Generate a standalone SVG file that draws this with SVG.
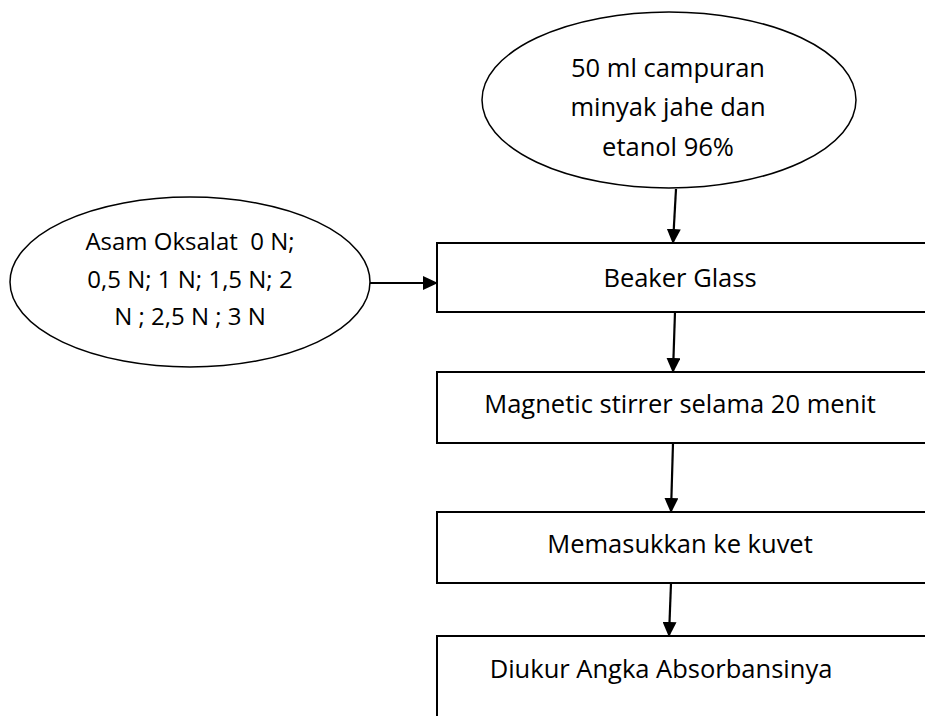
<svg xmlns="http://www.w3.org/2000/svg" width="925" height="716" viewBox="0 0 925 716">
<defs>
<marker id="ah" markerWidth="15" markerHeight="14" refX="14" refY="7" orient="auto" markerUnits="userSpaceOnUse">
<path d="M0,0 L15,7 L0,14 Z" fill="#000"/>
</marker>
</defs>
<style>
.s{fill:#fff;stroke:#000;stroke-width:2}
.e{fill:#fff;stroke:#000;stroke-width:1.5}
.t{font-family:"Open Sans","Liberation Sans",sans-serif;font-size:25.5px;fill:#000;text-anchor:middle}
.sm{font-size:24px}
.c{stroke:#000;stroke-width:2.2;fill:none;marker-end:url(#ah)}
</style>
<rect width="925" height="716" fill="#fff"/>
<g id="connectors">
<line class="c" x1="676" y1="189" x2="673" y2="243"/>
<line class="c" x1="369" y1="283" x2="437" y2="283"/>
<line class="c" x1="675" y1="312" x2="673" y2="372"/>
<line class="c" x1="673" y1="443" x2="671" y2="512"/>
<line class="c" x1="671" y1="583" x2="669" y2="636"/>
</g>
<g id="n1">
<ellipse class="e" cx="669" cy="100" rx="187" ry="88"/>
<text class="t" x="668" y="77">50 ml campuran</text>
<text class="t" x="668" y="116">minyak jahe dan</text>
<text class="t" x="668" y="156">etanol 96%</text>
</g>
<g id="n2">
<ellipse class="e" cx="190" cy="282" rx="180" ry="85"/>
<text class="t sm" x="190" y="250" xml:space="preserve">Asam Oksalat  0 N;</text>
<text class="t sm" x="190" y="288">0,5 N; 1 N; 1,5 N; 2</text>
<text class="t sm" x="190" y="325">N ; 2,5 N ; 3 N</text>
</g>
<g id="n3">
<rect class="s" x="437" y="243" width="500" height="69"/>
<text class="t" x="680" y="287">Beaker Glass</text>
</g>
<g id="n4">
<rect class="s" x="437" y="372" width="500" height="71"/>
<text class="t" x="680" y="413">Magnetic stirrer selama 20 menit</text>
</g>
<g id="n5">
<rect class="s" x="437" y="512" width="500" height="71"/>
<text class="t" x="680" y="553">Memasukkan ke kuvet</text>
</g>
<g id="n6">
<rect class="s" x="437" y="636" width="500" height="100"/>
<text class="t" x="661" y="678">Diukur Angka Absorbansinya</text>
</g>
</svg>
